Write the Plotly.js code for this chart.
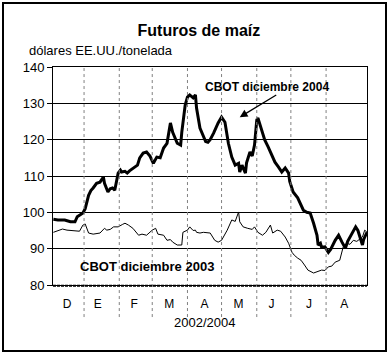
<!DOCTYPE html>
<html>
<head>
<meta charset="utf-8">
<script src="https://cdn.plot.ly/plotly-3.0.1.min.js"></script>
<style>
  html, body { margin: 0; padding: 0; background: #fff; }
  #wrap { position: relative; width: 390px; height: 356px; }
  #chart { width: 390px; height: 356px; }
  #frame { position: absolute; left: 2px; top: 2px; width: 381px; height: 346px;
           border: 2px solid #000; pointer-events: none; }
</style>
</head>
<body>
<div id="wrap"><div id="chart"></div><div id="frame"></div></div>
<script>
// CBOT diciembre 2004 (thick line)
const dates2004 = ['2003-12-05','2003-12-09','2003-12-15','2003-12-20','2003-12-24','2003-12-26','2003-12-31',
 '2004-01-02','2004-01-05','2004-01-07','2004-01-09','2004-01-12','2004-01-15','2004-01-18','2004-01-19','2004-01-22','2004-01-24','2004-01-26','2004-01-28','2004-01-31',
 '2004-02-02','2004-02-03','2004-02-06','2004-02-08','2004-02-10','2004-02-13','2004-02-17','2004-02-19','2004-02-22','2004-02-25','2004-02-28',
 '2004-03-02','2004-03-05','2004-03-08','2004-03-11','2004-03-14','2004-03-17','2004-03-19','2004-03-23','2004-03-26','2004-03-27','2004-03-30',
 '2004-04-01','2004-04-03','2004-04-06','2004-04-08','2004-04-09','2004-04-12','2004-04-15','2004-04-17','2004-04-19','2004-04-21','2004-04-24','2004-04-25','2004-04-28',
 '2004-05-01','2004-05-04','2004-05-07','2004-05-10','2004-05-13','2004-05-16','2004-05-17','2004-05-19','2004-05-22','2004-05-23','2004-05-26','2004-05-28','2004-05-30',
 '2004-06-01','2004-06-02','2004-06-06','2004-06-08','2004-06-11','2004-06-15','2004-06-17','2004-06-20','2004-06-23','2004-06-26','2004-06-29','2004-06-30',
 '2004-07-03','2004-07-07','2004-07-12','2004-07-15','2004-07-18','2004-07-21','2004-07-24','2004-07-25','2004-07-27','2004-07-28','2004-07-31',
 '2004-08-03','2004-08-05','2004-08-09','2004-08-12','2004-08-15','2004-08-18','2004-08-20','2004-08-24','2004-08-27','2004-08-29',
 '2004-09-02','2004-09-03','2004-09-06'];
const price2004 = [98.1,97.9,97.9,97.4,97.4,98.8,99.8,
 101,104.7,106,106.7,108,108.3,109.7,108,105.6,106.5,106.7,106.1,110.8,
 111.6,111.1,111.3,110.8,111.4,112,113,115,116.3,116.6,115.5,
 113.5,115.2,115,117.7,119,124.6,122,119,118.5,122,129.5,
 131.7,132.3,131.5,132.3,128.7,123.2,120.7,119.5,119.3,120,121.8,122.6,124.6,
 126.2,124.8,119,115.2,113,113.5,111.1,113,110.8,113.6,116.6,115.5,118.5,
 125.4,126,122,119.9,118,115.2,113.8,112.5,111.1,112.2,110.8,108.5,
 105.6,104,100.6,100,99.8,97,93.7,91,91.5,90.4,90.5,
 89,89.8,92.3,93.7,91.8,90.1,92,94.3,96,95,
 91,92.5,94.5];

// CBOT diciembre 2003 (thin line)
const dates2003 = ['2003-12-05','2003-12-09','2003-12-13','2003-12-17','2003-12-21','2003-12-28','2003-12-31',
 '2004-01-02','2004-01-05','2004-01-09','2004-01-15','2004-01-19','2004-01-21','2004-01-24','2004-01-27','2004-01-31',
 '2004-02-04','2004-02-06','2004-02-09','2004-02-13','2004-02-18','2004-02-21','2004-02-25',
 '2004-03-01','2004-03-04','2004-03-06','2004-03-11','2004-03-14','2004-03-17','2004-03-19','2004-03-23','2004-03-27','2004-03-28',
 '2004-04-01','2004-04-03','2004-04-06','2004-04-08','2004-04-09','2004-04-12','2004-04-15','2004-04-21','2004-04-25','2004-04-28',
 '2004-05-01','2004-05-06','2004-05-10','2004-05-13','2004-05-16','2004-05-17','2004-05-20','2004-05-24','2004-05-28','2004-05-30',
 '2004-06-02','2004-06-06','2004-06-09','2004-06-13','2004-06-15','2004-06-19','2004-06-22','2004-06-26','2004-06-29',
 '2004-07-02','2004-07-04','2004-07-07','2004-07-10','2004-07-13','2004-07-16','2004-07-21','2004-07-24','2004-07-28','2004-07-31',
 '2004-08-03','2004-08-06','2004-08-09','2004-08-13','2004-08-15','2004-08-16','2004-08-19','2004-08-22','2004-08-25','2004-08-28',
 '2004-09-02','2004-09-04','2004-09-06'];
const price2003 = [94.5,95,95.4,95.1,95,94.8,96.5,
 96.8,94.3,94,94.3,95.6,95.1,95.3,96,96,
 96.7,97,96.5,95.6,93.7,94,93.7,
 95.1,95.6,94,93.7,92.3,92.5,91.8,91,91,94.5,
 95.1,96,95,95.1,94.5,94.3,94.5,94.3,92.3,91.8,
 92.3,95.1,97.9,97.5,100.1,97.4,96,95.6,95.3,96,
 94.5,93.7,94.5,96.5,94.3,95.1,94.8,93.2,91.5,
 89,88.2,87.4,86.8,85.5,84.1,83.3,83.6,84.1,84,
 85,85.2,86.3,86.8,89.6,90.4,91.5,91.2,92.3,92,
 93.2,95.1,94.5];

const monthLabels = ['D','E','F','M','A','M','J','J','A'];
const monthTickDates = ['2003-12-17','2004-01-13','2004-02-14','2004-03-16','2004-04-16','2004-05-16','2004-06-14','2004-07-17','2004-08-17'];
const monthStarts = ['2004-01-01','2004-02-01','2004-03-01','2004-04-01','2004-05-01','2004-06-01','2004-07-01','2004-08-01'];

const FONT = 'Arial, "Liberation Sans", sans-serif';

const traces = [
  { x: dates2003, y: price2003, type: 'scatter', mode: 'lines',
    line: { color: '#000', width: 1 }, hoverinfo: 'skip', name: 'CBOT diciembre 2003' },
  { x: dates2004, y: price2004, type: 'scatter', mode: 'lines',
    line: { color: '#000', width: 3 }, hoverinfo: 'skip', name: 'CBOT diciembre 2004' }
];

const shapes = monthStarts.map(d => ({
  type: 'line', xref: 'x', yref: 'paper', x0: d, x1: d, y0: -0.147, y1: 1,
  line: { color: '#808080', width: 1, dash: 'dot' }
}));
// dense daily tick band along the bottom axis
shapes.push({
  type: 'line', xref: 'paper', yref: 'paper', x0: 0, x1: 1, y0: -0.004, y1: -0.004,
  line: { color: '#000', width: 2, dash: '3px,1px' }
});

const layout = {
  width: 390, height: 356,
  margin: { l: 53, r: 23, t: 67, b: 71 },
  paper_bgcolor: '#fff', plot_bgcolor: '#fff',
  showlegend: false,
  font: { family: FONT, color: '#000', size: 13 },
  title: { text: '<b>Futuros de maíz</b>', font: { family: FONT, size: 16, color: '#000' },
           x: 0.51, xanchor: 'center', y: 0.915, yanchor: 'middle' },
  xaxis: {
    type: 'date', range: ['2003-12-04 16:00', '2004-09-06'],
    tickmode: 'array', tickvals: monthTickDates, ticktext: monthLabels,
    ticks: '', ticklabelstandoff: 8,
    tickfont: { family: FONT, size: 12, color: '#000' },
    showgrid: false, zeroline: false,
    showline: true, linecolor: '#000', linewidth: 1, mirror: true,
    fixedrange: true
  },
  yaxis: {
    range: [80, 140], tickmode: 'linear', tick0: 80, dtick: 10,
    ticks: 'outside', ticklen: 5, tickcolor: '#000',
    tickfont: { family: FONT, size: 13, color: '#000' },
    showgrid: true, gridcolor: '#000', gridwidth: 1, zeroline: false,
    showline: true, linecolor: '#000', linewidth: 1, mirror: true,
    fixedrange: true
  },
  shapes: shapes,
  annotations: [
    { text: 'dólares EE.UU./tonelada', xref: 'paper', yref: 'paper',
      x: -0.083, y: 1.077, xanchor: 'left', yanchor: 'middle', showarrow: false,
      font: { family: FONT, size: 13, color: '#000' } },
    { text: '<b>CBOT diciembre 2004</b>', xref: 'paper', yref: 'paper',
      x: 0.68, y: 0.908, xanchor: 'center', yanchor: 'middle', showarrow: false,
      font: { family: FONT, size: 12, color: '#000' } },
    { text: '', xref: 'x', yref: 'y', x: '2004-05-17', y: 126.2,
      showarrow: true, arrowhead: 2, arrowsize: 1.2, arrowwidth: 1.3, arrowcolor: '#000',
      ax: 38, ay: -23 },
    { text: '<b>CBOT diciembre 2003</b>', xref: 'paper', yref: 'paper',
      x: 0.299, y: 0.087, xanchor: 'center', yanchor: 'middle', showarrow: false,
      font: { family: FONT, size: 13, color: '#000' } },
    { text: '2002/2004', xref: 'paper', yref: 'paper',
      x: 0.481, y: -0.174, xanchor: 'center', yanchor: 'middle', showarrow: false,
      font: { family: FONT, size: 13, color: '#000' } }
  ]
};

Plotly.newPlot('chart', traces, layout, { displayModeBar: false, staticPlot: true });
</script>
</body>
</html>
